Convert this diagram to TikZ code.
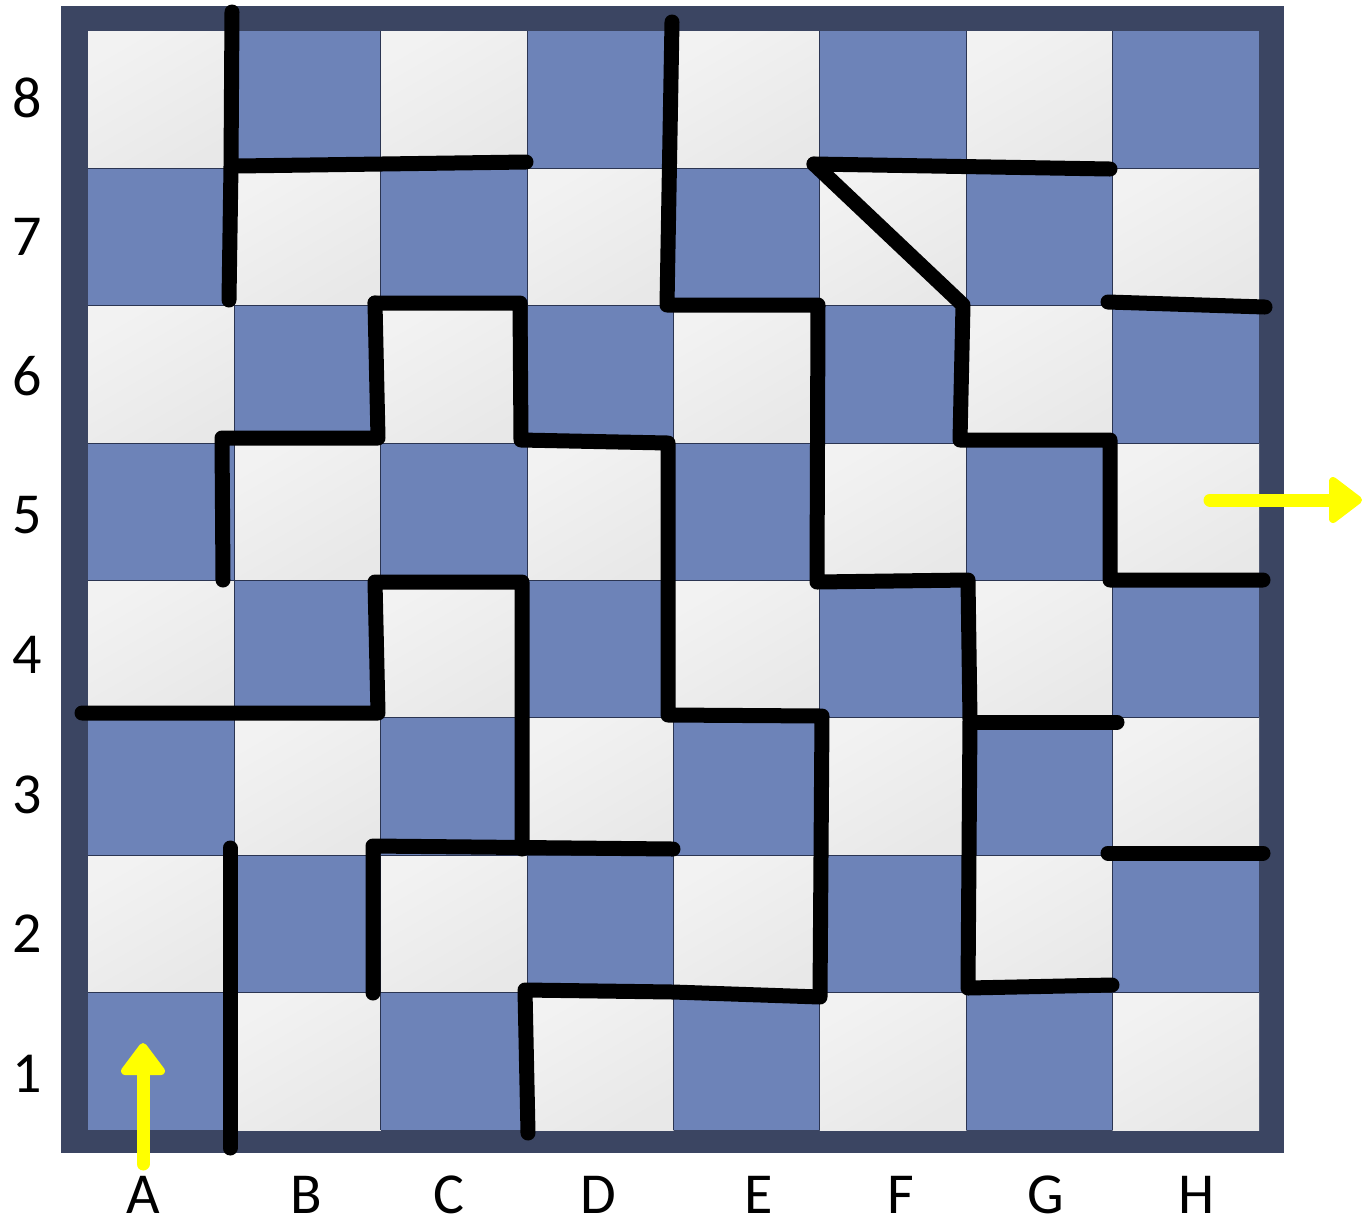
\documentclass[tikz,border=0pt]{standalone}
\usepackage{fontspec}
\setmainfont{Carlito}
\definecolor{framec}{HTML}{3B4562}
\definecolor{bluesq}{HTML}{6D83B8}
\definecolor{lightsqA}{HTML}{F2F2F2}
\definecolor{lightsqB}{HTML}{E8E8E8}
\definecolor{gridc}{HTML}{2B3552}
\definecolor{arrowc}{HTML}{FFFF00}
\tikzset{
  wall/.style={line width=7.5pt, black, line cap=round, line join=round},
  arrowshaft/.style={line width=6.5pt, arrowc, line cap=round},
  arrowhead/.style={fill=arrowc, draw=arrowc, line width=4pt, line join=round},
  lbl/.style={font=\fontsize{29}{34}\selectfont, text=black, inner sep=0pt}
}
\begin{document}
\begin{tikzpicture}[x=0.5pt,y=-0.5pt]
\useasboundingbox (0,0) rectangle (1372,1223);
% frame
\fill[framec] (61,6) rectangle (1284,1153);
% squares
\foreach \i in {0,...,7}{
  \foreach \j in {0,...,7}{
    \pgfmathtruncatemacro\sqpar{mod(\i+\j,2)}
    \ifnum\sqpar=0
      \shade[top color=lightsqA, bottom color=lightsqB, shading angle=30]
        ({88+\i*146.375},{31+\j*137.375}) rectangle ++(146.375,137.375);
    \else
      \fill[bluesq] ({88+\i*146.375},{31+\j*137.375}) rectangle ++(146.375,137.375);
    \fi
  }
}
% grid lines
\foreach \k in {1,...,7}{
  \draw[gridc, line width=0.6pt] ({88+\k*146.375},31) -- ({88+\k*146.375},1130);
  \draw[gridc, line width=0.6pt] (88,{31+\k*137.375}) -- (1259,{31+\k*137.375});
}
% walls
\draw[wall] (232,12) -- (231,166) -- (229,300);
\draw[wall] (237,166) -- (526,162);
\draw[wall] (672,22) -- (667,305) -- (818,305) -- (817,582) -- (968,580) -- (970,720) -- (968,988) -- (1112,985);
\draw[wall] (972,722) -- (1117,722);
\draw[wall] (814,164) -- (1110,169);
\draw[wall] (814,164) -- (963,305) -- (960,440) -- (1110,440) -- (1110,580) -- (1263,580);
\draw[wall] (1108,302) -- (1265,307);
\draw[wall] (1108,853) -- (1263,853);
\draw[wall] (375,303) -- (520,303) -- (521,440) -- (668,443) -- (668,715) -- (822,716) -- (820,997) -- (673,992) -- (525,990) -- (528,1133);
\draw[wall] (223,580) -- (222,438) -- (378,438) -- (375,303);
\draw[wall] (82,713) -- (378,713) -- (375,582) -- (522,582) -- (522,849);
\draw[wall] (373,993) -- (373,846) -- (673,849);
\draw[wall] (230,848) -- (230,1148);
% start arrow
\coordinate (startA) at (143,1164);
\coordinate (startB) at (143,1072);
\draw[arrowshaft] (startA) -- (startB);
\filldraw[arrowhead] (143,1047) -- (125,1071) -- (161,1071) -- cycle;
% exit arrow
\coordinate (exitA) at (1210,500);
\coordinate (exitB) at (1334,500);
\draw[arrowshaft] (exitA) -- (exitB);
\filldraw[arrowhead] (1358,500) -- (1333,481) -- (1333,519) -- cycle;
% row labels
\node[lbl] (r8) at (27,98) {8};
\node[lbl] (r7) at (27,237) {7};
\node[lbl] (r6) at (27,376) {6};
\node[lbl] (r5) at (27,515) {5};
\node[lbl] (r4) at (27,655) {4};
\node[lbl] (r3) at (27,795) {3};
\node[lbl] (r2) at (27,934) {2};
\node[lbl] (r1) at (27,1074) {1};
% column labels
\node[lbl] (cA) at (143,1195) {A};
\node[lbl] (cB) at (306,1195) {B};
\node[lbl] (cC) at (449,1195) {C};
\node[lbl] (cD) at (598,1195) {D};
\node[lbl] (cE) at (759,1195) {E};
\node[lbl] (cF) at (901,1195) {F};
\node[lbl] (cG) at (1046,1195) {G};
\node[lbl] (cH) at (1197,1195) {H};
\end{tikzpicture}
\end{document}
